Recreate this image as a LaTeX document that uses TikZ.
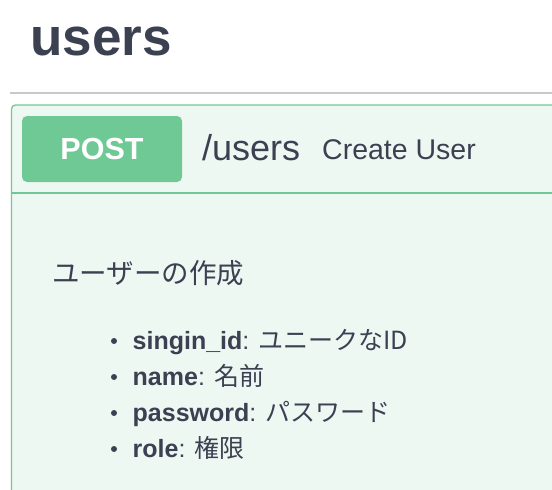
\documentclass[tikz,border=0pt]{standalone}
\usepackage{fontspec}
\setmainfont{Liberation Sans}
\newfontfamily\jpfont{Noto Sans CJK JP}
\definecolor{ink}{HTML}{3B4151}
\definecolor{postgreen}{HTML}{6FC995}
\definecolor{postbg}{HTML}{EEF8F3}
\definecolor{rulegray}{HTML}{C9C9CC}
\tikzset{
  txt/.style={inner sep=0pt, anchor=base west, text=ink},
  item/.style={txt, font=\fontsize{25}{25}\selectfont},
}

\begin{document}
\begin{tikzpicture}[x=1pt,y=-1pt]
  \clip (0,0) rectangle (552,490);
  \fill[white] (0,0) rectangle (552,490);

  \node[txt, font=\fontsize{53}{53}\selectfont\bfseries] (title) at (30,55) {users};
  \draw[rulegray, line width=1.3pt] (10,93) -- (560,93);

  \begin{scope}
    \def\lw{1.3pt}
    \draw[postgreen, fill=postbg, line width=\lw, rounded corners=4pt] (11.5,105) rectangle (580,520);
    \draw[postgreen, line width=\lw] (11.5,193) -- (580,193);
    \node[fill=postgreen, rounded corners=5pt, minimum width=160pt, minimum height=66pt, inner sep=0pt,
          text=white, font=\fontsize{30.5}{30.5}\selectfont\bfseries] (method) at (102,149) {POST};
    \node[txt, font=\fontsize{36}{36}\selectfont] (path) at (202,160) {/users};
    \node[txt, font=\fontsize{28.5}{28.5}\selectfont] (summary) at (322,159) {Create User};
  \end{scope}

  \node[txt, font=\fontsize{27.5}{27.5}\selectfont\jpfont] (desc) at (52,283) {ユーザーの作成};

  \foreach \key/\val [count=\i] in {singin\_id/ユニークなID, name/名前, password/パスワード, role/権限} {
    \pgfmathsetmacro{\y}{349+36*(\i-1)}
    \node[circle, fill=ink, inner sep=0pt, minimum size=6pt] (dot\i) at (114,\y-8) {};
    \node[item] (param\i) at (132.5,\y) {\textbf{\key}: {\jpfont \val}};
  }
\end{tikzpicture}
\end{document}
